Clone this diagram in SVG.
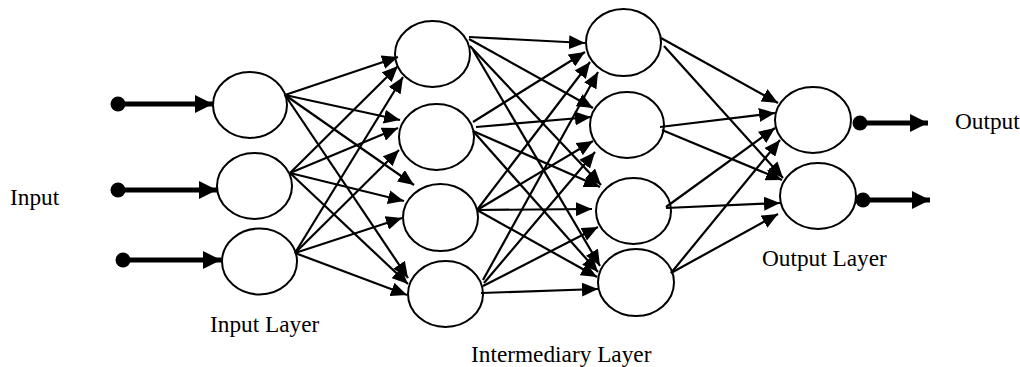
<svg xmlns="http://www.w3.org/2000/svg" width="1020" height="367" viewBox="0 0 1020 367">
  <style>
    .node { fill: #ffffff; stroke: #000000; stroke-width: 2; }
    .edge { stroke: #000000; stroke-width: 2.2; fill: none; marker-end: url(#head); }
    .io { stroke: #000000; stroke-width: 5; fill: none; marker-end: url(#bighead); }
    .dot { fill: #000000; }
    .label { font-family: "Liberation Serif", "Times New Roman", serif; font-size: 23.3px; fill: #000000; }
  </style>
  <defs>
    <marker id="head" markerUnits="userSpaceOnUse" markerWidth="16" markerHeight="14" refX="16" refY="7" orient="auto">
      <path d="M0,0 L16,7 L0,14 z" fill="#000000"/>
    </marker>
    <marker id="bighead" markerUnits="userSpaceOnUse" markerWidth="18" markerHeight="18" refX="18" refY="9" orient="auto">
      <path d="M0,0 L18,9 L0,18 z" fill="#000000"/>
    </marker>
  </defs>

  <!-- input layer -->
  <g id="in1"><ellipse class="node" cx="250" cy="105" rx="37" ry="33"/></g>
  <g id="in2"><ellipse class="node" cx="254.5" cy="186" rx="37.5" ry="33"/></g>
  <g id="in3"><ellipse class="node" cx="259.5" cy="261.5" rx="37.5" ry="33"/></g>

  <!-- first intermediary column -->
  <g id="h1a"><ellipse class="node" cx="432.5" cy="54" rx="37.5" ry="33"/></g>
  <g id="h1b"><ellipse class="node" cx="436.5" cy="137" rx="37.5" ry="33"/></g>
  <g id="h1c"><ellipse class="node" cx="440.5" cy="217.5" rx="37.5" ry="33.5"/></g>
  <g id="h1d"><ellipse class="node" cx="445.5" cy="294" rx="37.5" ry="33"/></g>

  <!-- second intermediary column -->
  <g id="h2a"><ellipse class="node" cx="623.5" cy="42.5" rx="37.5" ry="33.5"/></g>
  <g id="h2b"><ellipse class="node" cx="627" cy="125" rx="37" ry="33"/></g>
  <g id="h2c"><ellipse class="node" cx="633.5" cy="211" rx="37.5" ry="33"/></g>
  <g id="h2d"><ellipse class="node" cx="636" cy="282.5" rx="38" ry="33.5"/></g>

  <!-- output layer -->
  <g id="out1"><ellipse class="node" cx="813" cy="120" rx="38" ry="33"/></g>
  <g id="out2"><ellipse class="node" cx="818" cy="196" rx="38" ry="33"/></g>

  <g id="connectors">
    <!-- input layer to first intermediary column -->
    <line class="edge" x1="285" y1="95" x2="398" y2="57"/>
    <line class="edge" x1="285" y1="95" x2="400" y2="120"/>
    <line class="edge" x1="285" y1="95" x2="414" y2="185"/>
    <line class="edge" x1="285" y1="95" x2="408" y2="278"/>
    <line class="edge" x1="290" y1="173" x2="398" y2="66"/>
    <line class="edge" x1="290" y1="173" x2="398" y2="128"/>
    <line class="edge" x1="290" y1="173" x2="404" y2="201"/>
    <line class="edge" x1="290" y1="173" x2="408" y2="284"/>
    <line class="edge" x1="295" y1="253" x2="403" y2="77"/>
    <line class="edge" x1="295" y1="253" x2="399" y2="150"/>
    <line class="edge" x1="295" y1="253" x2="402" y2="218"/>
    <line class="edge" x1="295" y1="253" x2="407" y2="295"/>

    <!-- first to second intermediary column -->
    <line class="edge" x1="469" y1="37" x2="585" y2="43"/>
    <line class="edge" x1="469" y1="39" x2="593" y2="108"/>
    <line class="edge" x1="470" y1="46" x2="601" y2="185"/>
    <line class="edge" x1="473" y1="50" x2="600" y2="266"/>
    <line class="edge" x1="473" y1="122" x2="585" y2="52"/>
    <line class="edge" x1="476" y1="127" x2="591" y2="117"/>
    <line class="edge" x1="473" y1="131" x2="600" y2="187"/>
    <line class="edge" x1="473" y1="131" x2="598" y2="272"/>
    <line class="edge" x1="477" y1="210" x2="590" y2="62"/>
    <line class="edge" x1="477" y1="210" x2="593" y2="141"/>
    <line class="edge" x1="477" y1="210" x2="592" y2="209"/>
    <line class="edge" x1="477" y1="210" x2="597" y2="277"/>
    <line class="edge" x1="483" y1="280" x2="598" y2="72"/>
    <line class="edge" x1="484" y1="283" x2="595" y2="152"/>
    <line class="edge" x1="483" y1="286" x2="598" y2="227"/>
    <line class="edge" x1="481" y1="293" x2="598" y2="289"/>

    <!-- second intermediary column to output layer -->
    <line class="edge" x1="661" y1="38" x2="778" y2="103"/>
    <line class="edge" x1="664" y1="46" x2="783" y2="178"/>
    <line class="edge" x1="660" y1="127" x2="775" y2="113"/>
    <line class="edge" x1="662" y1="130" x2="782" y2="180"/>
    <line class="edge" x1="666" y1="207" x2="775" y2="128"/>
    <line class="edge" x1="666" y1="208" x2="780" y2="203"/>
    <line class="edge" x1="671" y1="273" x2="780" y2="140"/>
    <line class="edge" x1="671" y1="273" x2="778" y2="214"/>

    <!-- network inputs -->
    <circle class="dot" cx="118" cy="104" r="7.5"/>
    <line class="io" x1="118" y1="104" x2="213" y2="104"/>
    <circle class="dot" cx="118" cy="190" r="7.5"/>
    <line class="io" x1="118" y1="190" x2="217" y2="190"/>
    <circle class="dot" cx="123" cy="260" r="7.5"/>
    <line class="io" x1="123" y1="260" x2="221" y2="260"/>

    <!-- network outputs -->
    <circle class="dot" cx="860" cy="123" r="7.5"/>
    <line class="io" x1="860" y1="123" x2="928" y2="123"/>
    <circle class="dot" cx="863" cy="200" r="7.5"/>
    <line class="io" x1="863" y1="200" x2="930" y2="200"/>
  </g>

  <g id="labels">
    <text class="label" x="10" y="205">Input</text>
    <text class="label" x="210" y="332">Input Layer</text>
    <text class="label" x="471" y="362">Intermediary Layer</text>
    <text class="label" x="762" y="266">Output Layer</text>
    <text class="label" x="955" y="129">Output</text>
  </g>
</svg>
